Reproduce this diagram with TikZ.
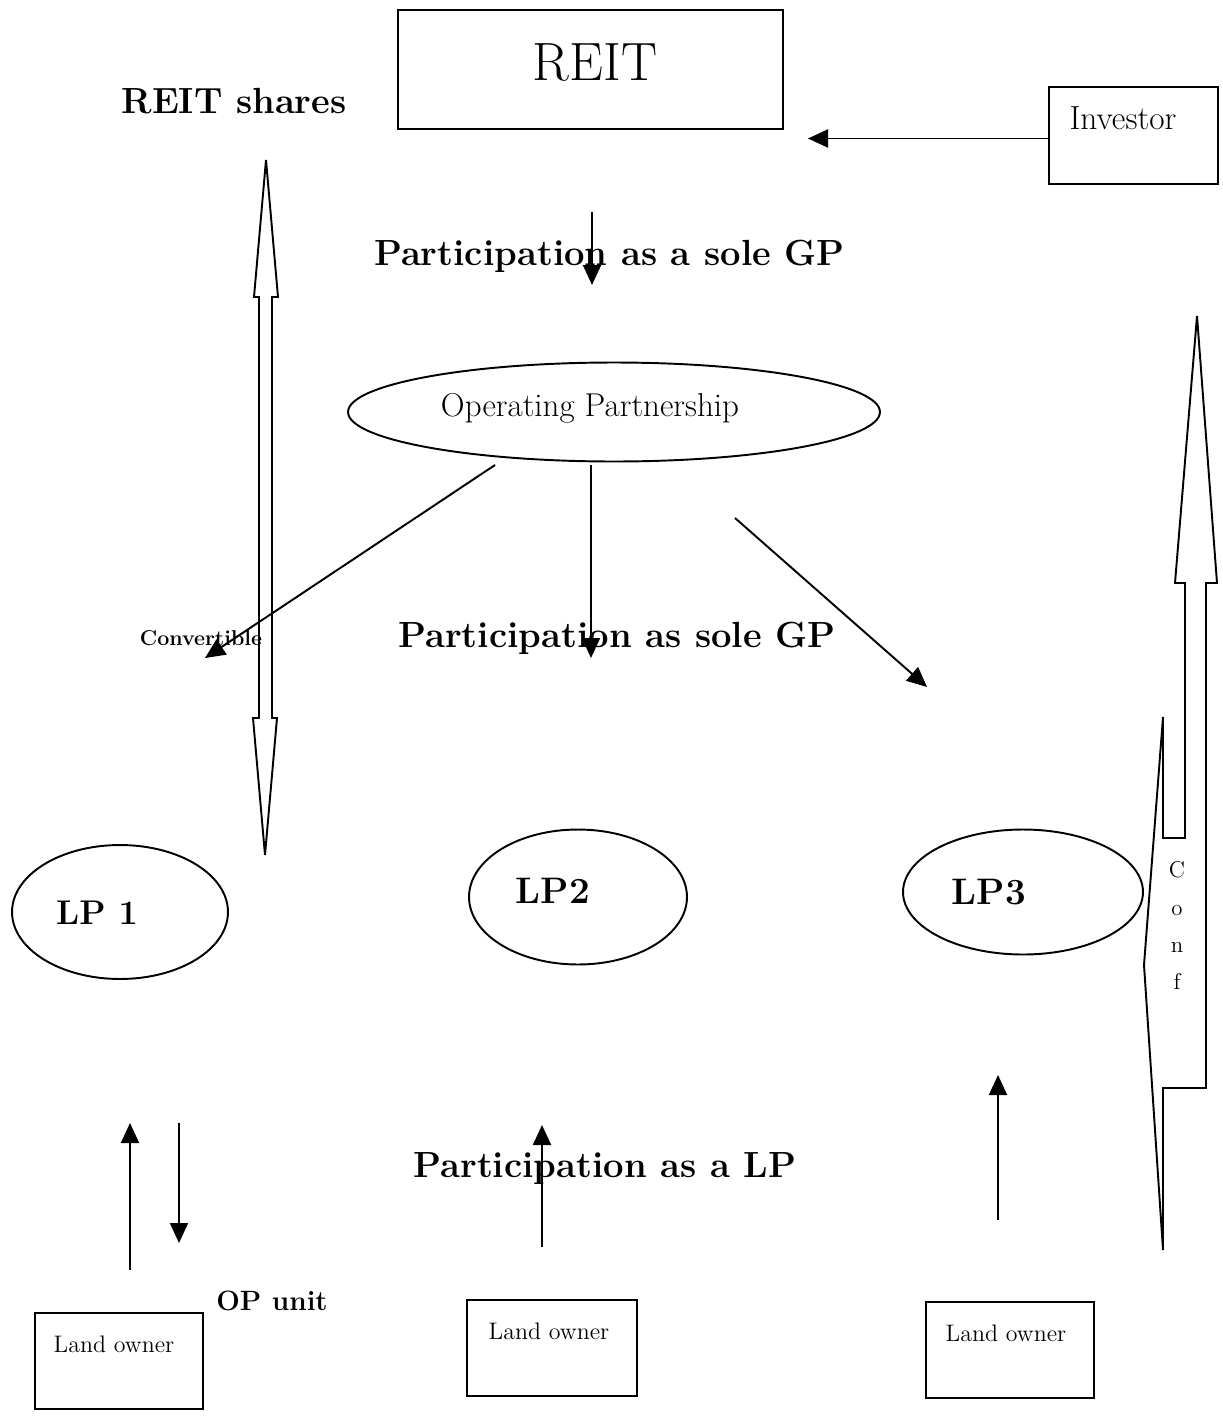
\documentclass[tikz,border=0pt]{standalone}
\usepackage{fontspec}
\usetikzlibrary{calc}
\usetikzlibrary{arrows.meta}
\usetikzlibrary{shapes.geometric}

\begin{document}
\begin{tikzpicture}[x=0.02cm, y=-0.02cm, line width=1.1pt,
		box/.style={draw, rectangle, inner sep=0pt},
		oval/.style={draw, ellipse, inner sep=0pt},
		arr/.style={-{Triangle[length=0.4cm, width=0.36cm]}},
		biglbl/.style={font=\fontsize{20.7}{24}\selectfont\bfseries, inner sep=0pt, anchor=base},
		txt/.style={inner sep=0pt, anchor=base}]
			\useasboundingbox (0,0) rectangle (1223,1420);
			
			\node[box, minimum width=7.7cm, minimum height=2.38cm] (reit) at (590.5,69.5) {};
			\node[txt, font=\fontsize{30.7}{34}\selectfont] (reitlbl) at (595,80) {REIT};
			\node[box, minimum width=3.38cm, minimum height=1.94cm] (inv) at (1133.5,135.5) {};
			\node[txt, font=\fontsize{19}{22}\selectfont] (invlbl) at (1123,129) {Investor};
			\node[biglbl] (shares) at (234,113) {REIT shares};
			
			\node[oval, minimum width=10.64cm, minimum height=1.98cm] (op) at (614,412) {};
			\node[txt, font=\fontsize{18.8}{22}\selectfont] (oplbl) at (590,416) {Operating Partnership};
			
			\node[oval, minimum width=4.32cm, minimum height=2.68cm] (lp1) at (120,912) {};
			\node[oval, minimum width=4.36cm, minimum height=2.7cm] (lp2) at (578,897) {};
			\node[oval, minimum width=4.8cm, minimum height=2.5cm] (lp3) at (1023,892) {};
			\node[biglbl, font=\fontsize{19.5}{22}\selectfont\bfseries] (lp1lbl) at (97,924) {LP 1};
			\node[biglbl, font=\fontsize{21}{24}\selectfont\bfseries] (lp2lbl) at (553,903) {LP2};
			\node[biglbl, font=\fontsize{21}{24}\selectfont\bfseries] (lp3lbl) at (989,904) {LP3};
			
			\node[box, minimum width=3.36cm, minimum height=1.92cm] (land1) at (119,1361) {};
			\node[box, minimum width=3.4cm, minimum height=1.92cm] (land2) at (552,1348) {};
			\node[box, minimum width=3.36cm, minimum height=1.92cm] (land3) at (1010,1350) {};
			\node[txt, font=\fontsize{13.6}{16}\selectfont] (land1lbl) at (114,1352) {Land owner};
			\node[txt, font=\fontsize{13.6}{16}\selectfont] (land2lbl) at (549,1339) {Land owner};
			\node[txt, font=\fontsize{13.6}{16}\selectfont] (land3lbl) at (1006,1341) {Land owner};
			
			\node[biglbl] (gp1) at (609.5,265) {Participation as a sole GP};
			\node[biglbl] (gp2) at (617,647) {Participation as sole GP};
			\node[biglbl] (lpp) at (605,1177) {Participation as a LP};
			\node[biglbl, font=\fontsize{15.9}{18}\selectfont\bfseries] (opunit) at (272,1310) {OP unit};
			\node[biglbl, font=\fontsize{12.2}{14}\selectfont\bfseries] (conv) at (201,645) {Convertible};
			
			\node[txt, font=\fontsize{13}{16}\selectfont] (c1) at (1177,877) {C};
			\node[txt, font=\fontsize{13}{16}\selectfont] (c2) at (1177,915) {o};
			\node[txt, font=\fontsize{13}{16}\selectfont] (c3) at (1177,952) {n};
			\node[txt, font=\fontsize{13}{16}\selectfont] (c4) at (1177,989) {f};
			
			\coordinate (invend) at (808,138.5);
			\coordinate (gpa) at (592,212);
			\coordinate (gpb) at (592,285);
			\coordinate (opl) at (495,465);
			\coordinate (convend) at (205,658);
			\coordinate (opm) at (591,465);
			\coordinate (opmend) at (591,658);
			\coordinate (opr) at (735,518);
			\coordinate (oprend) at (927,687);
			\coordinate (upa) at (130,1270);
			\coordinate (upb) at (130,1123);
			\coordinate (dna) at (179,1123);
			\coordinate (dnb) at (179,1243);
			\coordinate (up2a) at (542,1247);
			\coordinate (up2b) at (542,1125);
			\coordinate (up3a) at (998,1220);
			\coordinate (up3b) at (998,1075);
			
			\draw[arr] ($(inv.west)+(0,3)$) -- (invend);
			\draw[arr] (gpa) -- (gpb);
			\draw[arr] (opl) -- (convend);
			\draw[arr] (opm) -- (opmend);
			\draw[arr] (opr) -- (oprend);
			\draw[arr] (upa) -- (upb);
			\draw[arr] (dna) -- (dnb);
			\draw[arr] (up2a) -- (up2b);
			\draw[arr] (up3a) -- (up3b);
			
			% REIT shares <-> OP units
			\draw (266,160) -- (278,297) -- (272,297) -- (272,718) -- (277,718) -- (265,855)
				-- (253,718) -- (259,718) -- (259,297) -- (254,297) -- cycle;
			% conversion arrow on the right
			\draw (1197,316) -- (1217,583) -- (1206,583) -- (1206,1088) -- (1163,1088) -- (1163,1250)
				-- (1144,965) -- (1163,717) -- (1163,838) -- (1185,838) -- (1185,583) -- (1175,583) -- cycle;
		\end{tikzpicture}
\end{document}
